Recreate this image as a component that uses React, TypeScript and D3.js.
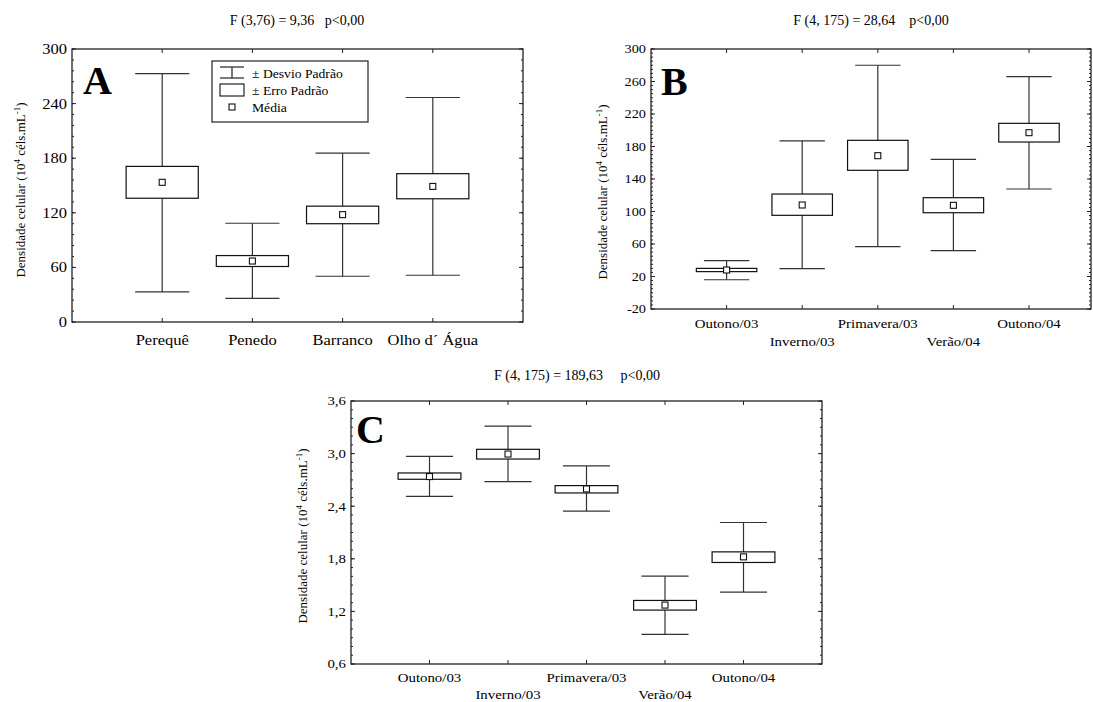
import React from 'react';
import * as d3 from 'd3';

// ---------- Data ----------
const catsA = ['Perequê', 'Penedo', 'Barranco', 'Olho d´ Água'];
const meanA = [153.5, 67, 118, 149];
const seLoA = [136, 61, 108, 135.4];
const seHiA = [171, 73, 127.3, 163];
const sdLoA = [33, 26, 50.3, 51.4];
const sdHiA = [273, 108.5, 185.5, 246.7];
const ticksA = [0, 60, 120, 180, 240, 300];

const catsB = ['Outono/03', 'Inverno/03', 'Primavera/03', 'Verão/04', 'Outono/04'];
const meanB = [28, 108, 168.7, 107.6, 197];
const seLoB = [26, 95.3, 150.7, 98.5, 185.5];
const seHiB = [30, 121.5, 187.6, 117, 208.5];
const sdLoB = [16, 29.6, 56.7, 51.8, 127.7];
const sdHiB = [39.5, 187, 280, 164.2, 266];
const ticksB = [-20, 20, 60, 100, 140, 180, 220, 260, 300];

const catsC = ['Outono/03', 'Inverno/03', 'Primavera/03', 'Verão/04', 'Outono/04'];
const meanC = [2.738, 2.995, 2.597, 1.272, 1.822];
const seLoC = [2.707, 2.938, 2.551, 1.215, 1.758];
const seHiC = [2.779, 3.049, 2.635, 1.325, 1.879];
const sdLoC = [2.513, 2.681, 2.343, 0.938, 1.42];
const sdHiC = [2.969, 3.314, 2.859, 1.602, 2.214];
const ticksC = [0.6, 1.2, 1.8, 2.4, 3.0, 3.6];

const titleA = 'F (3,76) = 9,36\u00a0\u00a0\u00a0p<0,00';
const titleB = 'F (4, 175) = 28,64\u00a0\u00a0\u00a0\u00a0p<0,00';
const titleC = 'F (4, 175) = 189,63\u00a0\u00a0\u00a0\u00a0\u00a0p<0,00';

const FONT = '"Liberation Serif", "Times New Roman", serif';

type Cfg = {
  left: number; top: number; right: number; bottom: number; xEnd: number;
  domain: [number, number]; cats: string[];
  mean: number[]; seLo: number[]; seHi: number[]; sdLo: number[]; sdHi: number[];
  ticks: number[]; minorStep: number; fmt: (v: number) => string;
  letter: string; letterX: number; letterY: number;
  title: string; titleX: number; titleY: number;
  ylabelX: number; ylabelY: number;
  tickFont: number; catFont: number; sx: number;
  stagger: boolean; catY1: number; catY2: number;
};

function T({ x, y, sx = 1, anchor = 'middle', size, children, weight }: any) {
  return (
    <text transform={`translate(${x},${y}) scale(${sx},1)`} textAnchor={anchor}
      fontSize={size} fontFamily={FONT} fontWeight={weight || 'normal'} fill="#000">
      {children}
    </text>
  );
}

function Panel({ c }: { c: Cfg }) {
  const x = d3.scalePoint<string>().domain(c.cats).range([c.left, c.xEnd]).padding(1);
  const y = d3.scaleLinear().domain(c.domain).range([c.bottom, c.top]);
  const step = x.step();
  const boxW = step * 0.8;
  const capW = step * 0.6;
  const minors = d3.range(c.domain[0], c.domain[1] + c.minorStep / 2, c.minorStep);
  const frame = '#222';
  return (
    <g>
      <T x={c.titleX} y={c.titleY} size={14}>{c.title}</T>
      {/* frame */}
      <rect x={c.left} y={c.top} width={c.right - c.left} height={c.bottom - c.top}
        fill="none" stroke={frame} strokeWidth={1.3} />
      {/* minor ticks left & right */}
      {minors.map((v, i) => (
        <g key={'m' + i}>
          <line x1={c.left} x2={c.left + 2} y1={y(v)} y2={y(v)} stroke={frame} strokeWidth={1} />
          <line x1={c.right} x2={c.right - 2} y1={y(v)} y2={y(v)} stroke={frame} strokeWidth={1} />
        </g>
      ))}
      {c.ticks.map((v, i) => (
        <g key={'t' + i}>
          <line x1={c.left} x2={c.left + 4} y1={y(v)} y2={y(v)} stroke={frame} strokeWidth={1} />
          <line x1={c.right} x2={c.right - 4} y1={y(v)} y2={y(v)} stroke={frame} strokeWidth={1} />
          <T x={c.left - 5} y={y(v) + c.tickFont * 0.33} size={c.tickFont} sx={c.sx} anchor="end">{c.fmt(v)}</T>
        </g>
      ))}
      {/* x ticks */}
      {c.cats.map((k, i) => (
        <g key={'x' + i}>
          <line x1={x(k)} x2={x(k)} y1={c.bottom} y2={c.bottom - 4} stroke={frame} />
          <line x1={x(k)} x2={x(k)} y1={c.top} y2={c.top + 4} stroke={frame} />
          <T x={x(k)} y={c.stagger && i % 2 === 1 ? c.catY2 : c.catY1} size={c.catFont} sx={c.sx}>{k}</T>
        </g>
      ))}
      {/* boxes */}
      {c.cats.map((k, i) => {
        const cx = x(k) as number;
        return (
          <g key={'b' + i}>
            <line x1={cx} x2={cx} y1={y(c.sdHi[i])} y2={y(c.sdLo[i])} stroke="#333" strokeWidth={1.2} />
            <line x1={cx - capW / 2} x2={cx + capW / 2} y1={y(c.sdHi[i])} y2={y(c.sdHi[i])} stroke="#333" strokeWidth={1.2} />
            <line x1={cx - capW / 2} x2={cx + capW / 2} y1={y(c.sdLo[i])} y2={y(c.sdLo[i])} stroke="#333" strokeWidth={1.2} />
            <rect x={cx - boxW / 2} y={y(c.seHi[i])} width={boxW} height={y(c.seLo[i]) - y(c.seHi[i])}
              fill="#fff" stroke="#111" strokeWidth={1.2} />
            <rect x={cx - 3} y={y(c.mean[i]) - 3} width={6} height={6} fill="#fff" stroke="#111" strokeWidth={1.1} />
          </g>
        );
      })}
      <T x={c.letterX} y={c.letterY} size={40} weight="bold" anchor="start">{c.letter}</T>
      <text transform={`translate(${c.ylabelX},${c.ylabelY}) rotate(-90)`} textAnchor="middle"
        fontSize={13} fontFamily={FONT} fill="#000">
        Densidade celular (10<tspan dy={-5} fontSize={9}>4</tspan><tspan dy={5}> céls.mL</tspan>
        <tspan dy={-5} fontSize={9}>-1</tspan><tspan dy={5}>)</tspan>
      </text>
    </g>
  );
}

const intFmt = (v: number) => String(v);
const decFmt = (v: number) => d3.format('.1f')(v).replace('.', ',');

const cfgA: Cfg = {
  left: 72, top: 49, right: 523, bottom: 322, xEnd: 523,
  domain: [0, 300], cats: catsA, mean: meanA, seLo: seLoA, seHi: seHiA, sdLo: sdLoA, sdHi: sdHiA,
  ticks: ticksA, minorStep: 12, fmt: intFmt,
  letter: 'A', letterX: 83, letterY: 94,
  title: titleA, titleX: 297, titleY: 25,
  ylabelX: 25, ylabelY: 190,
  tickFont: 15, catFont: 15, sx: 1.1,
  stagger: false, catY1: 345, catY2: 345,
};

const cfgB: Cfg = {
  left: 651, top: 49, right: 1091, bottom: 309, xEnd: 1104.6,
  domain: [-20, 300], cats: catsB, mean: meanB, seLo: seLoB, seHi: seHiB, sdLo: sdLoB, sdHi: sdHiB,
  ticks: ticksB, minorStep: 5, fmt: intFmt,
  letter: 'B', letterX: 661, letterY: 95,
  title: titleB, titleX: 871, titleY: 25,
  ylabelX: 607, ylabelY: 192,
  tickFont: 13, catFont: 13.5, sx: 1.1,
  stagger: true, catY1: 328, catY2: 346,
};

const cfgC: Cfg = {
  left: 351, top: 401, right: 822, bottom: 664, xEnd: 822,
  domain: [0.6, 3.6], cats: catsC, mean: meanC, seLo: seLoC, seHi: seHiC, sdLo: sdLoC, sdHi: sdHiC,
  ticks: ticksC, minorStep: 0.1, fmt: decFmt,
  letter: 'C', letterX: 356, letterY: 443,
  title: titleC, titleX: 577, titleY: 380,
  ylabelX: 307, ylabelY: 536,
  tickFont: 13.5, catFont: 13.5, sx: 1.1,
  stagger: true, catY1: 682, catY2: 699,
};

function Legend() {
  const lx = 212, ly = 61, w = 156, h = 61;
  return (
    <g>
      <rect x={lx} y={ly} width={w} height={h} fill="#fff" stroke="#222" strokeWidth={1.2} />
      <line x1={220} x2={244} y1={67} y2={67} stroke="#222" strokeWidth={1.2} />
      <line x1={232} x2={232} y1={67} y2={78} stroke="#222" strokeWidth={1.2} />
      <line x1={220} x2={244} y1={78} y2={78} stroke="#222" strokeWidth={1.2} />
      <rect x={220} y={84} width={24} height={12} fill="#fff" stroke="#222" strokeWidth={1.2} />
      <rect x={229} y={104} width={6} height={6} fill="#fff" stroke="#111" strokeWidth={1.1} />
      <T x={252} y={78} size={13} anchor="start" sx={1.05}>± Desvio Padrão</T>
      <T x={252} y={95} size={13} anchor="start" sx={1.05}>± Erro Padrão</T>
      <T x={252} y={112} size={13} anchor="start" sx={1.05}>Média</T>
    </g>
  );
}

export default function App() {
  return (
    <svg width={1093} height={702} style={{ position: 'absolute', left: 0, top: 0, background: '#fff' }}>
      <rect x={0} y={0} width={1093} height={702} fill="#fff" />
      <Panel c={cfgA} />
      <Legend />
      <Panel c={cfgB} />
      <Panel c={cfgC} />
    </svg>
  );
}
